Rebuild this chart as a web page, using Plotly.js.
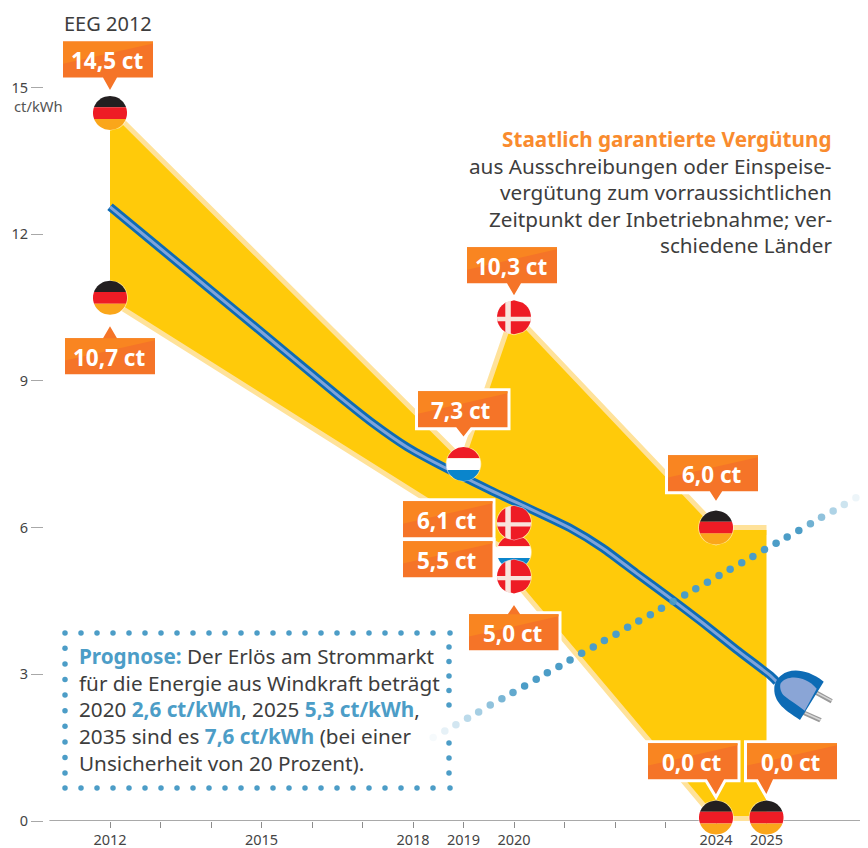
<!DOCTYPE html>
<html><head><meta charset="utf-8">
<script src="https://cdn.plot.ly/plotly-3.0.1.min.js"></script>
<style>html,body{margin:0;padding:0;background:#fff}#c{width:868px;height:848px}</style>
</head><body><div id="c"></div>
<script>
// ---- data ----
const upperYears  = [2012, 2019, 2020, 2024, 2025];
const upperValues = [14.5, 7.3, 10.3, 5.95, 5.95];
const lowerYears  = [2012, 2020, 2020, 2024, 2025];
const lowerValues = [10.7, 5.5, 5.0, 0.1, 0.1];
const yieldYears  = [2012, 2015, 2016.55, 2017.21, 2017.88, 2018.53, 2019.52, 2021.11, 2021.76, 2022.42, 2023.09, 2023.74, 2024.41, 2025.07, 2025.2];
const yieldValues = [12.56, 10.0, 8.67, 8.13, 7.65, 7.28, 6.77, 5.99, 5.58, 5.07, 4.56, 4.05, 3.50, 2.98, 2.85];
const marketYears = [2018.40,2018.63,2018.85,2019.08,2019.30,2019.53,2019.76,2019.98,2020.21,2020.44,2020.66,2020.89,2021.11,2021.34,2021.57,2021.79,2022.02,2022.25,2022.47,2022.70,2022.92,2023.15,2023.38,2023.60,2023.83,2024.06,2024.28,2024.51,2024.73,2024.96,2025.19,2025.41,2025.64,2025.87,2026.09,2026.32,2026.54,2026.77];
const marketValues = [1.71,1.84,1.97,2.10,2.23,2.37,2.50,2.63,2.76,2.90,3.03,3.16,3.29,3.43,3.56,3.69,3.82,3.96,4.09,4.22,4.35,4.49,4.62,4.75,4.88,5.02,5.15,5.28,5.41,5.55,5.68,5.81,5.94,6.08,6.21,6.34,6.47,6.61];
const marketFade = [.05,.14,.25,.38,.5,.62,.75,.88,1,1,1,1,1,1,1,1,1,1,1,1,1,.85,1,1,1,1,1,1,1,1,1,1,1,.8,.62,.45,.28,.1];
const labelTexts  = ['14,5 ct','10,7 ct','10,3 ct','7,3 ct','6,1 ct','5,5 ct','5,0 ct','6,0 ct','0,0 ct','0,0 ct'];
const flagYears   = [2012, 2012, 2020, 2019, 2020, 2020, 2020, 2024, 2024, 2025];
const flagValues  = [14.48, 10.7, 10.3, 7.3, 6.1, 5.5, 5.0, 6.0, 0.07, 0.07];
const flagKinds   = ['de','de','dk','lu','dk','lu','dk','de','de','de'];
const tickYears   = [2012, 2015, 2018, 2019, 2020, 2024, 2025];
const minorYears  = [2013,2014,2016,2017,2021,2022,2023];
const valueTicks  = [0, 3, 6, 9, 12, 15];

// ---- label geometry relative to the flag (px, y down) ----
const boxL = [-47,-45,-47,-45.5,-111,-111,-45,-48,-68,-19.5];
const boxT = [-71.5,40.5,-70,-72.7,-21.4,-10.8,37.8,-72.3,-74.3,-74.3];
const tipY = [-23,28.5,-22,-25,null,null,26,-24,-20.3,-20.3];
const tipL = [-7,-7,-7,-8,0,0,-7,-7,-10,-9.5];
const tipR = [7,7,7,8,0,0,7,7,9,7.5];
const bordered = [0,0,0,1,1,1,1,1,1,1];

const W=868,H=848,L=44,R=8,B=27;
const pxYear=50.5, pxVal=48.9;
const xRange=[2012-(110-L)/pxYear, 2012+(W-R-110)/pxYear];
const yRange=[0,(H-B)/pxVal];
const paperX=p=>(p-L)/(W-L-R), paperY=p=>1-p/(H-B);
const yearPx=y=>110+(y-2012)*pxYear, valPx=v=>(H-B)-v*pxVal;

function anchored(year,val,path,fill,line){
  return {type:'path',xref:'paper',yref:'paper',xsizemode:'pixel',ysizemode:'pixel',
    xanchor:paperX(yearPx(year)),yanchor:paperY(valPx(val)),
    path,fillcolor:fill,line:line||{width:0},layer:'above'};
}
const poly=pts=>'M'+pts.map(p=>p[0].toFixed(2)+' '+(-p[1]).toFixed(2)).join(' L')+' Z';
function seg(r,a,b,swap){
  const pts=[],n=14;
  for(let i=0;i<=n;i++){const t=a+(b-a)*i/n;pts.push([Math.sqrt(Math.max(r*r-t*t,0)),t]);}
  for(let i=n;i>=0;i--){const t=a+(b-a)*i/n;pts.push([-Math.sqrt(Math.max(r*r-t*t,0)),t]);}
  return swap?pts.map(p=>[p[1],p[0]]):pts;
}
const RAD=17;
function flag(kind,y,v){
  const s=[anchored(y,v,poly(seg(RAD+.8,-RAD-.8,RAD+.8)),'rgba(255,255,255,0.55)')];
  if(kind==='dk'){
    s.push(anchored(y,v,poly(seg(RAD,-RAD,RAD)),'#EE1C25'));
    s.push(anchored(y,v,poly(seg(RAD,-.5,3.8)),'#F8E4DC'));
    s.push(anchored(y,v,poly(seg(RAD,-8.7,-3.2,true)),'#F8E4DC'));
  }else{
    const c=kind==='de'?['#231F20','#EE1C25','#FAA61A']:['#EE1C25','#FFFFFF','#0A85CC'];
    s.push(anchored(y,v,poly(seg(RAD,-RAD,-5.8)),c[0]));
    s.push(anchored(y,v,poly(seg(RAD,-5.8,6)),c[1]));
    s.push(anchored(y,v,poly(seg(RAD,6,RAD)),c[2]));
  }
  return s;
}
function labelBox(i){
  const e=bordered[i]?1.5:0;
  const w=(i>=3&&i<=6||i===8)?89.5:90,h=36;
  const l=boxL[i]-e,t=boxT[i]-e,r=boxL[i]+w+e,b=boxT[i]+h+e,ty=tipY[i];
  let pts=[[l,t]];
  if(ty!==null&&ty<t) pts.push([tipL[i],t],[0,ty],[tipR[i],t]);
  pts.push([r,t],[r,b]);
  if(ty!==null&&ty>b) pts.push([tipR[i],b],[0,ty],[tipL[i],b]);
  pts.push([l,b]);
  const line=bordered[i]?{color:'#FFFFFF',width:3}:{width:0};
  const L0=boxL[i],T0=boxT[i],R0=L0+w;
  return [anchored(flagYears[i],flagValues[i],poly(pts),'#F57428',line),
          anchored(flagYears[i],flagValues[i],poly([[L0,T0],[R0,T0],[R0,T0+2],[L0,T0+h*.62]]),'#F98521')];
}
const shapes=[];
labelTexts.forEach((_,i)=>shapes.push(...labelBox(i)));
[5,3,0,1,2,7,8,9,4,6].forEach(i=>shapes.push(...flag(flagKinds[i],flagYears[i],flagValues[i])));
shapes.push({type:'line',xref:'x',yref:'y',x0:2010.8,x1:xRange[1],y0:0,y1:0,line:{color:'#8C8C8C',width:1.5},layer:'below'});

const Z=(zx,zy)=>[640+zx/3-yearPx(2025),(H-B)-(640+zy/3)];
const zp=(cmds)=>cmds.map(c=>c[0]+c.slice(1).map(p=>{const q=Z(p[0],p[1]);return q[0].toFixed(1)+' '+q[1].toFixed(1);}).join(' ')).join(' ');
const plug=(d,f)=>anchored(2025,0,d,f);
shapes.push(plug(zp([['M',[528,150]],['L',[578,178]],['L',[572,190]],['L',[522,162]],['Z']]),'#9A9A9A'));
shapes.push(plug(zp([['M',[494,212]],['L',[545,235]],['L',[538,247]],['L',[488,224]],['Z']]),'#9A9A9A'));
shapes.push(plug(zp([['M',[530,156]],['L',[576,180]],['L',[574,184]],['L',[528,160]],['Z']]),'#D8D8D8'));
shapes.push(plug(zp([['M',[496,217]],['L',[543,238]],['L',[541,242]],['L',[494,221]],['Z']]),'#D8D8D8'));
shapes.push(plug(zp([['M',[425,105]],['C',[450,85],[500,85],[551,125]],['L',[480,240]],['C',[455,222],[400,195],[403,145]],['C',[403,130],[412,115],[425,105]],['Z']]),'#0D6BB5'));
shapes.push(plug(zp([['M',[422,130]],['C',[440,105],[495,105],[530,146]],['L',[494,212]],['C',[465,190],[440,175],[430,165]],['C',[422,155],[418,140],[422,130]],['Z']]),'#8AA5D6'));

const toYear=p=>2012+(p-110)/pxYear, toVal=p=>((H-B)-p)/pxVal;
const fx=[],fy=[];
for(let i=0;i<=23;i++){const x=65+16*i;fx.push(x,x);fy.push(633,788);}
fx.push(450,450);fy.push(633,788);
for(let i=0;i<9;i++){fx.push(65);fy.push(648.3+15.6*i);}
[647,661.5,676,690.5,705,743,758,773].forEach(y=>{fx.push(449);fy.push(y);});

const BLUE='#4C9DC7',GREY='#3D3D3D';
const traces=[
 {x:upperYears,y:upperValues,mode:'lines',line:{color:'#FFE29A',width:10},hoverinfo:'skip',showlegend:false},
 {x:lowerYears,y:lowerValues,mode:'lines',line:{color:'#FFE29A',width:10},hoverinfo:'skip',showlegend:false},
 {x:upperYears.concat(lowerYears.slice().reverse()),y:upperValues.concat(lowerValues.slice().reverse()),mode:'lines',line:{width:0},fill:'toself',fillcolor:'#FFCA0A',hoverinfo:'skip',showlegend:false},
 {x:yieldYears,y:yieldValues,mode:'lines',line:{color:'#0D6BB5',width:8.5,shape:'spline',smoothing:.6},hoverinfo:'skip',showlegend:false},
 {x:yieldYears,y:yieldValues,mode:'lines',line:{color:'#7FA4DA',width:3,shape:'spline',smoothing:.6},hoverinfo:'skip',showlegend:false},
 {x:marketYears,y:marketValues,mode:'markers',marker:{color:BLUE,size:7.5,opacity:marketFade},hoverinfo:'skip',showlegend:false},
 {x:fx.map(toYear),y:fy.map(toVal),mode:'markers',marker:{color:BLUE,size:5.5},hoverinfo:'skip',showlegend:false}
];

const FONT='"Noto Sans", sans-serif';
const ann=[];
labelTexts.forEach((t,i)=>{
  ann.push({xref:'paper',yref:'paper',x:paperX(yearPx(flagYears[i])+boxL[i]+43.5),y:paperY(valPx(flagValues[i])+boxT[i]+19.5),
    text:'<b>'+t+'</b>',showarrow:false,xanchor:'center',yanchor:'middle',
    font:{family:FONT,size:22.5,color:'#FFFFFF'}});
});
function line(px,py,text,size,align){
  ann.push({xref:'paper',yref:'paper',x:paperX(px),y:paperY(py),text,showarrow:false,borderpad:0,
    xanchor:align||'left',yanchor:'middle',align:align||'left',font:{family:FONT,size,color:GREY}});
}
const hl=s=>'<span style="color:'+BLUE+'"><b>'+s+'</b></span>';
line(107.5,24,'EEG 2012',20,'center');
line(12.5,106,'ct/kWh',14.8,'left');
ann[ann.length-1].font.color='#555';
const BODY=20.7;
line(833,139,'<span style="color:#F98B2E"><b>Staatlich garantierte Vergütung</b></span>',BODY,'right');
line(833,166,'aus Ausschreibungen oder Einspeise-',BODY,'right');
line(833,192,'vergütung zum vorraussichtlichen',BODY,'right');
line(833,219,'Zeitpunkt der Inbetriebnahme; ver-',BODY,'right');
line(833,245,'schiedene Länder',BODY,'right');
line(77.5,656,hl('Prognose:')+' Der Erlös am Strommarkt',BODY);
line(77.5,682.5,'für die Energie aus Windkraft beträgt',BODY);
line(77.5,709,'2020 '+hl('2,6 ct/kWh')+', 2025 '+hl('5,3 ct/kWh')+',',BODY);
line(77.5,736,'2035 sind es '+hl('7,6 ct/kWh')+' (bei einer',BODY);
line(77.5,762.5,'Unsicherheit von 20 Prozent).',BODY);

Plotly.newPlot('c',traces,{
  width:W,height:H,margin:{l:L,r:R,t:0,b:B,pad:0},
  paper_bgcolor:'#fff',plot_bgcolor:'#fff',showlegend:false,hovermode:false,
  font:{family:FONT,color:'#444'},
  xaxis:{range:xRange,tickmode:'array',tickvals:tickYears,ticktext:tickYears.map(String),ticks:'outside',ticklen:6,
    tickcolor:'#8C8C8C',tickwidth:1,showgrid:false,zeroline:false,showline:false,tickfont:{family:FONT,size:14.5,color:'#444'},
    minor:{tickmode:'array',tickvals:minorYears,ticks:'outside',ticklen:6,tickcolor:'#8C8C8C',tickwidth:1,showgrid:false}},
  yaxis:{range:yRange,tickmode:'array',tickvals:valueTicks,ticks:'outside',ticklen:12,tickcolor:'#A8A8A8',tickwidth:1,
    showgrid:false,zeroline:false,showline:false,tickfont:{family:FONT,size:14.5,color:'#444'}},
  shapes,annotations:ann
},{staticPlot:true,displayModeBar:false});
</script></body></html>
